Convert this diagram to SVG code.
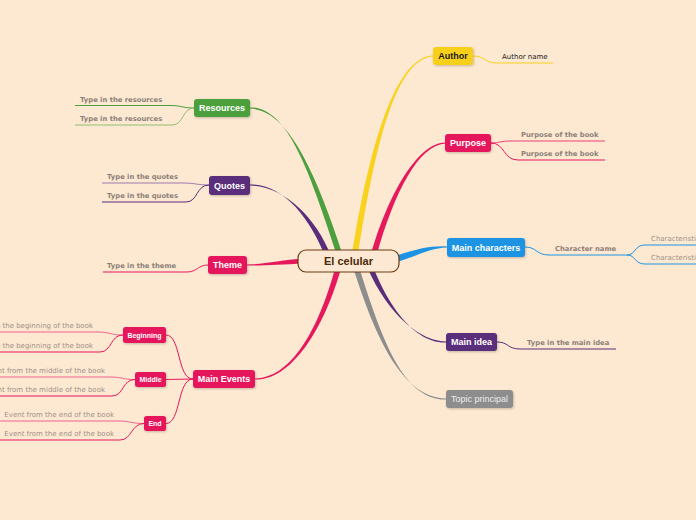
<svg xmlns="http://www.w3.org/2000/svg" width="696" height="520" viewBox="0 0 696 520">
<defs>
<filter id="sh" x="-20%" y="-30%" width="140%" height="160%">
<feDropShadow dx="0.8" dy="1" stdDeviation="0.8" flood-color="#000" flood-opacity="0.22"/>
</filter>
<style>
.n{filter:url(#sh)}
.t{font-family:"Liberation Sans",Arial,sans-serif;font-weight:bold;font-size:9px;fill:#fff;text-anchor:middle}
.ts{font-family:"Liberation Sans",Arial,sans-serif;font-weight:bold;font-size:7px;fill:#fff;text-anchor:middle}
.lb{font-family:"DejaVu Sans",Verdana,sans-serif;font-weight:bold;font-size:6.8px;fill:#8C8178}
.lr{font-family:"DejaVu Sans",Verdana,sans-serif;font-size:7px;fill:#9E928A}
.l{fill:none;stroke-width:1}
</style>
</defs>
<rect width="696" height="520" fill="#FDE8D1"/>
<g id="connectors">
<path d="M 351,261 C 368,150 395,54.8 434,55.4 L 434,56.6 C 395,57.3 374,150 357,261 Z" fill="#F8D21C"/>
<path d="M 369,261 C 387,195 418,141.8 446,142.4 L 446,143.6 C 418,144.3 393,195 375,261 Z" fill="#E5195C"/>
<path d="M 392,257 C 418,249 428,245.8 447,246.4 L 447,247.6 C 428,248.3 419,256 393,263 Z" fill="#1D94E3"/>
<path d="M 365,261 C 377,295 410,340.8 446,341.4 L 446,342.6 C 410,343.3 383,295 371,261 Z" fill="#5A2D7A"/>
<path d="M 351,261 C 373,331 400,397.8 446,398.4 L 446,399.6 C 400,400.3 379,329 357,261 Z" fill="#8D8D8D"/>
<path d="M 339,261 C 312,181 290,106.5 250,107.4 L 250,108.6 C 290,109.5 318,179 345,261 Z" fill="#4C9F3E"/>
<path d="M 327,261 C 312,221 285,183.8 250,184.4 L 250,185.6 C 285,186.3 318,219 333,261 Z" fill="#5A2D7A"/>
<path d="M 305,258.5 C 280,260 265,264.3 247,264.4 L 247,265.6 C 265,265.7 280,264.5 305,263.5 Z" fill="#E5195C"/>
<path d="M 337,261 C 322,320 295,377.8 255,378.4 L 255,379.6 C 295,380.3 328,320 343,261 Z" fill="#E5195C"/>
<path class="l" stroke="#E5195C" stroke-width="1.2" d="M 166,335 C 181,335 177,379 193,379"/>
<path class="l" stroke="#E5195C" stroke-width="1.2" d="M 166,379.5 L 193,379"/>
<path class="l" stroke="#E5195C" stroke-width="1.2" d="M 166,423.5 C 181,423.5 177,379 193,379"/>
<path class="l" stroke="#4C9F3E" d="M 75,105.5 H 170 C 182,105.5 182,108 194,108"/>
<path class="l" stroke="#8CC071" d="M 75,125 H 172 C 184,125 182,108 194,108"/>
<path class="l" stroke="#9D7BB0" d="M 102,183 H 183 C 195,183 197,185 209,185"/>
<path class="l" stroke="#5A2D7A" d="M 102,202 H 186 C 198,202 196,185 209,185"/>
<path class="l" stroke="#E5195C" d="M 103,272 H 187 C 197,272 198,265 208,265"/>
<path class="l" stroke="#F0658D" d="M 0,332 H 98 C 110,332 110,335 123,335"/>
<path class="l" stroke="#E5195C" d="M 0,352 H 100 C 112,352 110,335 123,335"/>
<path class="l" stroke="#F0658D" d="M 0,377 H 110 C 122,377 122,379.5 135,379.5"/>
<path class="l" stroke="#E5195C" d="M 0,396 H 112 C 124,396 122,379.5 135,379.5"/>
<path class="l" stroke="#F0658D" d="M 0,421 H 118 C 130,421 131,423.5 144,423.5"/>
<path class="l" stroke="#E5195C" d="M 0,440 H 120 C 132,440 131,423.5 144,423.5"/>
<path class="l" stroke="#F8D21C" d="M 473,56 C 486,56 484,63 497,63 H 553"/>
<path class="l" stroke="#EE4077" d="M 491,143 C 500,143 500,141 510,141 H 605"/>
<path class="l" stroke="#E5195C" d="M 491,143 C 505,143 503,160 518,160 H 605"/>
<path class="l" stroke="#1D94E3" d="M 525,247 C 537,247 536,255 549,255 H 627"/>
<path class="l" stroke="#1D94E3" d="M 627,255 C 636,255 634,245 645,245 H 696"/>
<path class="l" stroke="#1D94E3" d="M 627,255 C 636,255 634,264 645,264 H 696"/>
<path class="l" stroke="#5A2D7A" d="M 497,342 C 509,342 507,349 520,349 H 616"/>
</g>
<g id="center">
<rect x="298" y="250" width="101" height="22" rx="8" fill="#FDE9D3" stroke="#6B3A12" stroke-width="1.2"/>
<text x="348.5" y="265" font-family="Liberation Sans,Arial,sans-serif" font-weight="bold" font-size="11px" fill="#4A2A0A" text-anchor="middle">El celular</text>
</g>
<g id="author">
<rect class="n" x="433" y="47" width="40" height="18" rx="3" fill="#F8D01C"/>
<text class="t" x="453" y="59.3" style="fill:#1a1a1a">Author</text>
<text x="502" y="58.5" font-family="DejaVu Sans,Verdana,sans-serif" font-size="7px" fill="#1a1a1a">Author name</text>
</g>
<g id="purpose">
<rect class="n" x="445" y="134" width="46" height="18" rx="3" fill="#E5195C"/>
<text class="t" x="468" y="146.3">Purpose</text>
<text class="lb" x="521" y="136.5">Purpose of the book</text>
<text class="lb" x="521" y="156">Purpose of the book</text>
</g>
<g id="main-characters">
<rect class="n" x="447" y="238" width="78" height="19" rx="3" fill="#1D94E3"/>
<text class="t" x="486" y="250.5">Main characters</text>
<text class="lb" x="555" y="250.5">Character name</text>
<text class="lr" x="651" y="241">Characteristic</text>
<text class="lr" x="651" y="260">Characteristic</text>
</g>
<g id="main-idea">
<rect class="n" x="446" y="333" width="51" height="18" rx="3" fill="#5A2D7A"/>
<text class="t" x="471.5" y="345.3">Main idea</text>
<text class="lb" x="527" y="345">Type in the main idea</text>
</g>
<g id="topic-principal">
<rect class="n" x="446" y="390" width="67" height="18" rx="3" fill="#8D8D8D"/>
<text class="t" x="479.5" y="402.3" style="font-weight:normal;fill:#EEEEEE">Topic principal</text>
</g>
<g id="resources">
<rect class="n" x="194" y="99" width="56" height="18" rx="3" fill="#4C9F3E"/>
<text class="t" x="222" y="111.3">Resources</text>
<text class="lb" x="80" y="101.5">Type in the resources</text>
<text class="lb" x="80" y="120.8">Type in the resources</text>
</g>
<g id="quotes">
<rect class="n" x="209" y="176" width="41" height="19" rx="3" fill="#5A2D7A"/>
<text class="t" x="229.5" y="188.5">Quotes</text>
<text class="lb" x="107" y="179">Type in the quotes</text>
<text class="lb" x="107" y="198">Type in the quotes</text>
</g>
<g id="theme">
<rect class="n" x="208" y="256" width="39" height="18" rx="3" fill="#E5195C"/>
<text class="t" x="227.5" y="268.3">Theme</text>
<text class="lb" x="107" y="268">Type in the theme</text>
</g>
<g id="main-events">
<rect class="n" x="193" y="370" width="62" height="18" rx="3" fill="#E5195C"/>
<text class="t" x="224" y="382.3">Main Events</text>
</g>
<g id="beginning">
<rect class="n" x="123" y="327" width="43" height="16" rx="2.5" fill="#E5195C"/>
<text class="ts" x="144.5" y="337.5">Beginning</text>
<text class="lr" x="93" y="328" text-anchor="end">Event from the beginning of the book</text>
<text class="lr" x="93" y="348" text-anchor="end">Event from the beginning of the book</text>
</g>
<g id="middle">
<rect class="n" x="135" y="372" width="31" height="15" rx="2.5" fill="#E5195C"/>
<text class="ts" x="150.5" y="382">Middle</text>
<text class="lr" x="105" y="373" text-anchor="end">Event from the middle of the book</text>
<text class="lr" x="105" y="392" text-anchor="end">Event from the middle of the book</text>
</g>
<g id="end">
<rect class="n" x="144" y="416" width="22" height="15" rx="2.5" fill="#E5195C"/>
<text class="ts" x="155" y="426">End</text>
<text class="lr" x="114" y="417" text-anchor="end">Event from the end of the book</text>
<text class="lr" x="114" y="436" text-anchor="end">Event from the end of the book</text>
</g>
</svg>
